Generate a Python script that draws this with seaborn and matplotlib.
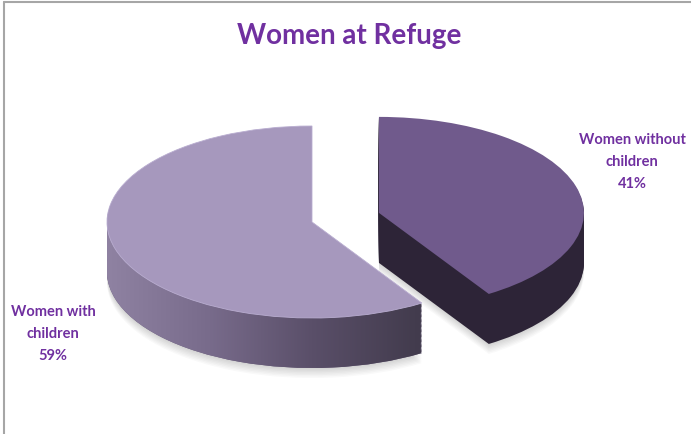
import numpy as np
import matplotlib
matplotlib.use("Agg")
import matplotlib.pyplot as plt
from matplotlib.colors import LinearSegmentedColormap
from matplotlib.lines import Line2D
import seaborn as sns

sns.set_theme(style="white")
plt.rcParams['font.family'] = ['Lato', 'DejaVu Sans']

# data
title = "Women at Refuge"
categories = ["Women without\nchildren", "Women with\nchildren"]
shares = [41, 59]
pct_labels = ["41%", "59%"]

top_colors = ["#705a8c", "#a698bd"]
exploded_side = "#2d2437"
text_purple = "#7030a0"

W, H = 691, 434
fig = plt.figure(figsize=(W / 100, H / 100), dpi=100)
ax = fig.add_axes([0, 0, 1, 1])

# unit circle is squashed into an ellipse (rx x ry px) to fake the 3d tilt
cx, cy, rx, ry = 312, 222, 205, 96
depth = 50 / ry
n_layers = 40
explode = [0.34, 0]

side_cmap = LinearSegmentedColormap.from_list(
    "side", ["#8f82a2", "#786b8b", "#5a4f69", "#433c4e", "#3f3a48"])
grad = np.linspace(0, 1, 256).reshape(1, -1)

pie_kw = dict(startangle=90, counterclock=False, explode=explode,
              radius=1, wedgeprops=dict(linewidth=0))

# soft shadow under the disc
for s in range(8):
    wedges, _ = ax.pie(shares, center=(0, -depth - 0.015 * s), colors=["#000000"] * 2, **pie_kw)
    for w in wedges:
        w.set_alpha(0.025)
        w.set_zorder(0.5)

# extruded sides, bottom layer first
for k in range(n_layers, 0, -1):
    dz = depth * k / n_layers
    wedges, _ = ax.pie(shares, center=(0, -dz), colors=[exploded_side, "#6a5e7c"], **pie_kw)
    wedges[0].set_zorder(1)
    wedges[1].set_zorder(3)
    im = ax.imshow(grad, cmap=side_cmap, aspect="auto",
                   extent=(-1, 1, -3, 3), zorder=3.1, interpolation="bilinear")
    im.set_clip_path(wedges[1])

# top faces
wedges, _ = ax.pie(shares, center=(0, 0), colors=top_colors, **pie_kw)
wedges[0].set_zorder(2)
wedges[1].set_zorder(5)
wedges[1].set_edgecolor("#b9add0")
wedges[1].set_linewidth(0.6)

ax.set_aspect("auto")
ax.set_xlim(-cx / rx, (W - cx) / rx)
ax.set_ylim((cy - H) / ry, cy / ry)
ax.axis("off")

# labels
label_pos = [(632, 162), (53, 334)]
for cat, pct, (px, py) in zip(categories, pct_labels, label_pos):
    fig.text(px / W, 1 - py / H, f"{cat}\n{pct}", ha="center", va="center",
             color=text_purple, fontsize=10.5, fontweight="bold", linespacing=1.75)

fig.text(349 / W, 1 - 36 / H, title, ha="center", va="center",
         color=text_purple, fontsize=20, fontweight="bold")

# chart border (only top and left edges show)
fig.add_artist(Line2D([4 / W, 1], [1 - 2 / H, 1 - 2 / H], color="#a6a6a6", lw=1.5))
fig.add_artist(Line2D([4 / W, 4 / W], [0, 1 - 2 / H], color="#a6a6a6", lw=1.5))

fig.savefig("out.png", dpi=100)
